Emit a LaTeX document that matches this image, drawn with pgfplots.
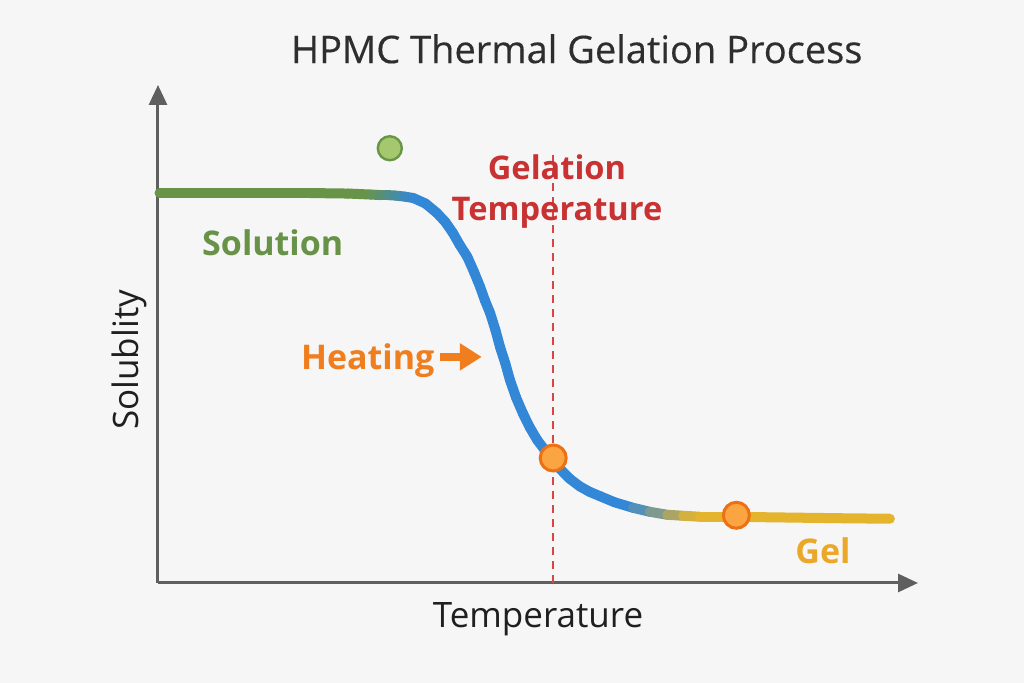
\documentclass[border=0pt]{standalone}
\usepackage{fontspec}
\setmainfont{Open Sans}
\newfontfamily\titlefont[FakeBold=0.35]{Open Sans}
\usepackage{pgfplots}
\pgfplotsset{compat=1.18}
\usetikzlibrary{arrows.meta,backgrounds}
\definecolor{bg}{RGB}{246,246,246}
\definecolor{axgray}{RGB}{95,95,95}
\definecolor{solgreen}{RGB}{104,146,72}
\definecolor{gelred}{RGB}{200,50,50}
\definecolor{dashred}{RGB}{215,70,70}
\definecolor{heatorange}{RGB}{240,125,30}
\definecolor{gelyellow}{RGB}{235,168,40}
\definecolor{dotgreenfill}{RGB}{165,200,110}
\definecolor{dotgreenedge}{RGB}{105,150,70}
\definecolor{dotorfill}{RGB}{250,165,65}
\definecolor{dotoredge}{RGB}{238,112,20}
\begin{document}
\begin{tikzpicture}
\begin{axis}[
  at={(0pt,0pt)}, anchor=south west,
  scale only axis, width=380pt, height=249pt,
  xmin=0, xmax=10, ymin=0, ymax=10,
  axis lines=left,
  axis line style={draw=axgray, line width=1.5pt},
  x axis line style={-{Triangle[length=10pt,width=9pt]}},
  y axis line style={-{Triangle[length=10pt,width=9pt]}},
  xtick=\empty, ytick=\empty,
  clip=false,
  colormap={solgel}{rgb255(0)=(104,148,72) rgb255(28)=(104,148,72) rgb255(34)=(50,135,215) rgb255(62)=(50,135,215) rgb255(71)=(228,180,45) rgb255(97)=(228,180,45)},
  point meta min=0, point meta max=9.7,
]
% gelation temperature line
\addplot[dashred, line width=1pt, dash pattern=on 4pt off 3pt] coordinates {(5.197,0) (5.197,8.59)};
% solubility curve
\addplot[mesh, point meta=x, line width=5pt, line cap=round, line join=round] coordinates {
(0.02,7.83) (0.5,7.83) (1.0,7.83) (1.5,7.83) (2.0,7.83) (2.5,7.82) (2.8,7.80) (2.92,7.79)
(3.02,7.79) (3.12,7.78) (3.24,7.76) (3.36,7.73) (3.52,7.62) (3.67,7.43) (3.78,7.25) (3.88,7.03)
(3.97,6.79) (4.07,6.55) (4.16,6.24) (4.24,5.94) (4.30,5.68) (4.37,5.42) (4.44,5.08) (4.50,4.74)
(4.57,4.41) (4.63,4.08) (4.71,3.73) (4.80,3.41) (4.89,3.13) (4.99,2.87) (5.08,2.69)
(5.16,2.53) (5.29,2.29) (5.42,2.09) (5.55,1.94) (5.68,1.83) (5.82,1.74) (6.01,1.62) (6.25,1.51)
(6.47,1.43) (6.70,1.37) (6.91,1.35) (7.13,1.33) (7.62,1.33) (8.0,1.32) (8.5,1.31) (9.0,1.30) (9.63,1.29)};
% markers
\addplot[only marks, mark=*, mark size=6pt, mark options={fill=dotgreenfill, draw=dotgreenedge, line width=1.2pt}] coordinates {(3.05,8.73)};
\addplot[only marks, mark=*, mark size=6.5pt, mark options={fill=dotorfill, draw=dotoredge, line width=1.5pt}] coordinates {(5.20,2.51) (7.61,1.36)};
% heating arrow
\draw[heatorange, line width=4pt, -{Triangle[length=11pt,width=13pt]}] (axis cs:3.71,4.54) -- (axis cs:4.26,4.54);
% labels
\node[anchor=base, text=black!82, font=\fontsize{19}{23}\titlefont] at (axis cs:5.51,10.44) {HPMC Thermal Gelation Process};
\node[anchor=base, text=black!88, font=\fontsize{17.5}{21}\selectfont] at (axis cs:5.0,-0.90) {Temperature};
\node[anchor=base, rotate=90, text=black!88, font=\fontsize{17.5}{21}\selectfont] at (axis cs:-0.26,4.48) {Solublity};
\node[anchor=base, text=solgreen, font=\fontsize{17}{20}\selectfont\bfseries] at (axis cs:1.51,6.57) {Solution};
\node[anchor=base, align=center, text=gelred, font=\fontsize{16.3}{20.5}\selectfont\bfseries] at (axis cs:5.25,7.27) {Gelation\\Temperature};
\node[anchor=base, text=heatorange, font=\fontsize{17}{20}\selectfont\bfseries] at (axis cs:2.76,4.28) {Heating};
\node[anchor=base, text=gelyellow, font=\fontsize{17}{20}\selectfont\bfseries] at (axis cs:8.75,0.40) {Gel};
\end{axis}
\begin{scope}[on background layer]
\fill[bg] (-79pt,-50pt) rectangle (433pt,291.5pt);
\end{scope}
\end{tikzpicture}
\end{document}
